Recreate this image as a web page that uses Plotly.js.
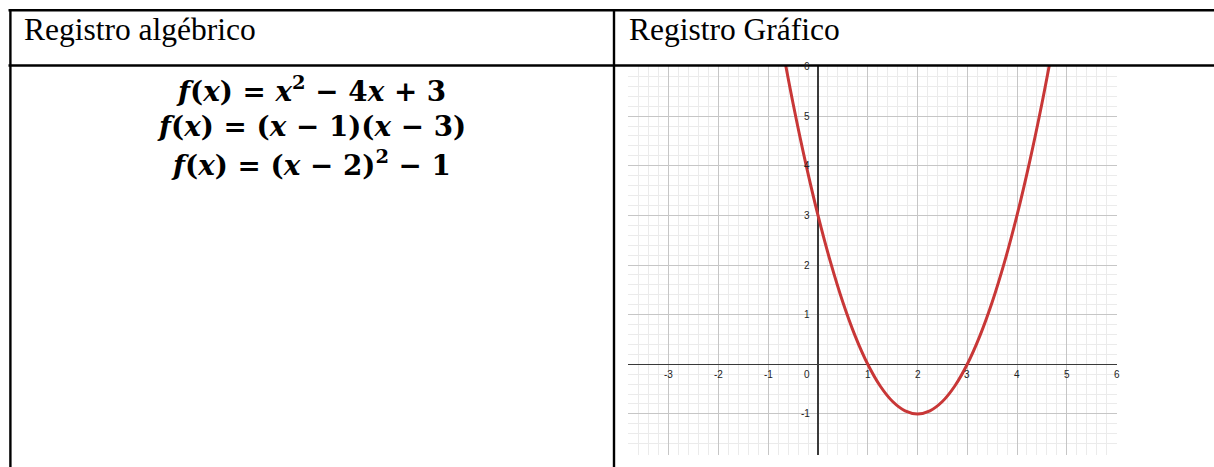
<!DOCTYPE html>
<html><head><meta charset="utf-8">
<script src="https://cdn.plot.ly/plotly-3.0.1.min.js"></script>
<style>html,body{margin:0;padding:0;background:#fff;overflow:hidden}#chart{width:1214px;height:467px;}</style>
</head><body><div id="chart"></div>
<script>
// ---- data ----
const headers = ["Registro algébrico", "Registro Gráfico"];
const formulas = [
  "<b><i>f</i>(<i>x</i>) = <i>x</i><sup>2</sup> − 4<i>x</i> + 3</b>",
  "<b><i>f</i>(<i>x</i>) = (<i>x</i> − 1)(<i>x</i> − 3)</b>",
  "<b><i>f</i>(<i>x</i>) = (<i>x</i> − 2)<sup>2</sup> − 1</b>"
];
const xTickVals = [-3, -2, -1, 1, 2, 3, 4, 5, 6];
const yTickVals = [-1, 1, 2, 3, 4, 5, 6];
const originLabel = "0";
const curveX = [-0.75, -0.5, -0.25, 0, 0.25, 0.5, 0.75, 1, 1.25, 1.5, 1.75, 2, 2.25, 2.5, 2.75, 3, 3.25, 3.5, 3.75, 4, 4.25, 4.5, 4.75];
const curveY = [6.5625, 5.25, 4.0625, 3, 2.0625, 1.25, 0.5625, 0, -0.4375, -0.75, -0.9375, -1, -0.9375, -0.75, -0.4375, 0, 0.5625, 1.25, 2.0625, 3, 4.0625, 5.25, 6.5625];

// ---- layout helpers ----
const W = 1214, H = 467;
const px = v => v / W;
const py = v => 1 - v / H;

const lineStyle = {color: '#000', width: 2.4};
const shapes = [
  {type: 'line', xref: 'paper', yref: 'paper', x0: px(8.5), x1: px(1214), y0: py(10.3), y1: py(10.3), line: lineStyle, layer: 'above'},
  {type: 'line', xref: 'paper', yref: 'paper', x0: px(8.5), x1: px(1214), y0: py(65.5), y1: py(65.5), line: lineStyle, layer: 'above'},
  {type: 'line', xref: 'paper', yref: 'paper', x0: px(10.4), x1: px(10.4), y0: py(9.2), y1: py(467), line: lineStyle, layer: 'above'},
  {type: 'line', xref: 'paper', yref: 'paper', x0: px(614), x1: px(614), y0: py(9.2), y1: py(467), line: lineStyle, layer: 'above'}
];

const annotations = [];
const headerX = [22, 627];
headers.forEach((t, i) => annotations.push({
  text: t, xref: 'paper', yref: 'paper', x: px(headerX[i]), y: py(29), xanchor: 'left', yanchor: 'middle',
  showarrow: false, font: {family: 'Liberation Serif, Times New Roman, serif', size: 31.5, color: '#000'}
}));
const formulaY = [89, 126.5, 163.5];
formulas.forEach((t, i) => annotations.push({
  text: t, xref: 'paper', yref: 'paper', x: px(311), y: py(formulaY[i]), xanchor: 'center', yanchor: 'middle',
  showarrow: false, font: {family: 'DejaVu Serif, serif', size: 27.8, color: '#000'}
}));
const tickFont = {family: 'Liberation Sans, Arial, sans-serif', size: 10, color: '#222'};
xTickVals.forEach(v => annotations.push({
  text: String(v), xref: 'x', yref: 'y', x: v, y: 0, xanchor: 'center', yanchor: 'middle',
  yshift: -10, showarrow: false, font: tickFont
}));
yTickVals.forEach(v => annotations.push({
  text: String(v), xref: 'x', yref: 'y', x: 0, y: v, xanchor: 'right', yanchor: 'middle',
  xshift: -6, showarrow: false, font: tickFont
}));
annotations.push({text: originLabel, xref: 'x', yref: 'y', x: 0, y: 0, xanchor: 'right', yanchor: 'middle',
  xshift: -6, yshift: -10, showarrow: false, font: tickFont});

const axisCommon = {
  dtick: 1, tick0: 0, showgrid: true, gridcolor: '#c6c6c6', gridwidth: 1,
  minor: {dtick: 0.2, tick0: 0, showgrid: true, gridcolor: '#ebebeb', gridwidth: 1},
  zeroline: true, zerolinecolor: '#3a3a3a', zerolinewidth: 1.2,
  showticklabels: false, ticks: '', showline: false, fixedrange: true
};

const layout = {
  width: W, height: H, margin: {l: 0, r: 0, t: 0, b: 0},
  paper_bgcolor: '#fff', plot_bgcolor: '#fff', showlegend: false,
  xaxis: Object.assign({}, axisCommon, {domain: [px(628), px(1117)], range: [-3.819, 6.01]}),
  yaxis: Object.assign({}, axisCommon, {domain: [py(454.5), py(66)], range: [-1.818, 6.01]}),
  shapes: shapes, annotations: annotations
};

const trace = {
  x: curveX, y: curveY, type: 'scatter', mode: 'lines',
  line: {color: '#c83737', width: 3, shape: 'spline', smoothing: 1.0},
  hoverinfo: 'skip'
};

Plotly.newPlot('chart', [trace], layout, {displayModeBar: false, staticPlot: true});
</script></body></html>
